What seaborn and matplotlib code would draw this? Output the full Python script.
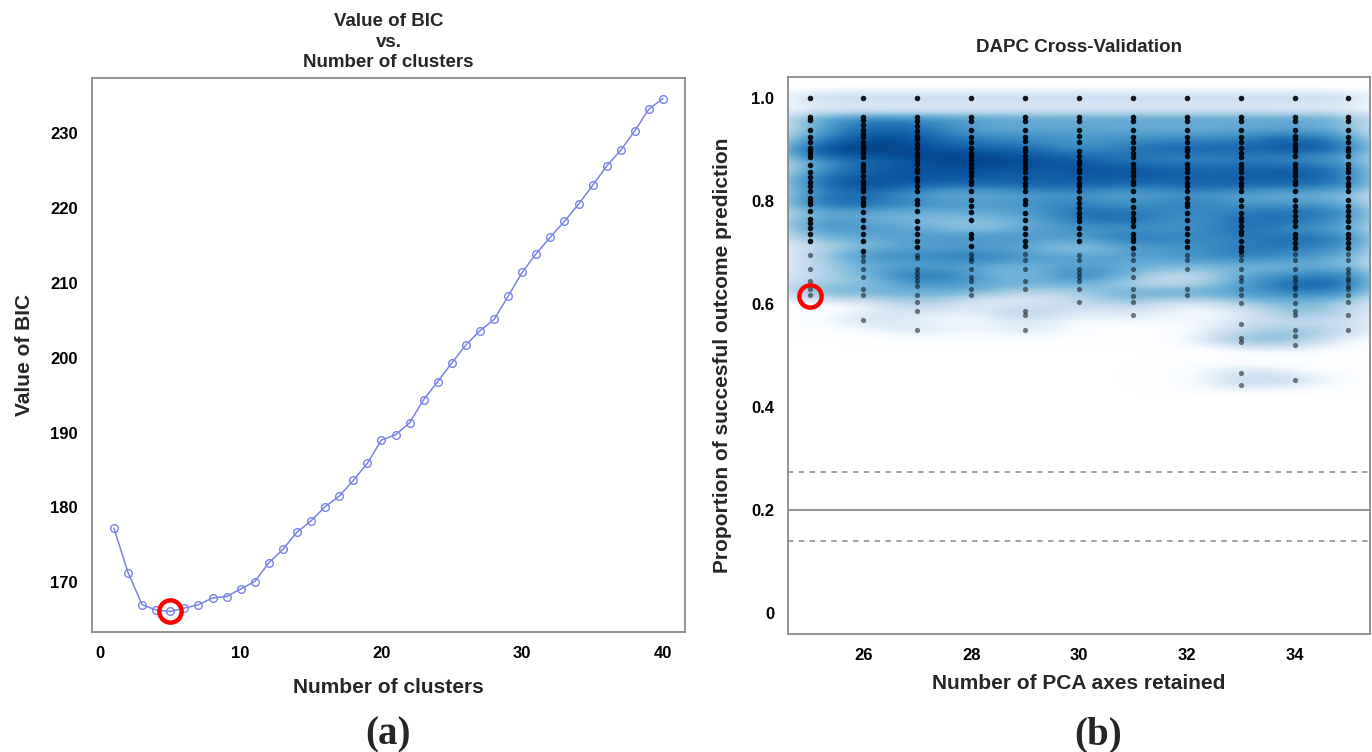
import numpy as np
import pandas as pd
import matplotlib
matplotlib.use("Agg")
import matplotlib.pyplot as plt
from matplotlib.colors import LinearSegmentedColormap
import seaborn as sns

# ---------------- data: panel (a) ----------------
n_clusters = list(range(1, 41))
bic_values = [177.2, 171.3, 167.0, 166.3, 166.1, 166.55, 167.0, 167.9, 168.1, 169.1,
              170.1, 172.6, 174.4, 176.7, 178.2, 180.1, 181.5, 183.6, 185.9, 189.0,
              189.7, 191.3, 194.4, 196.8, 199.3, 201.7, 203.6, 205.1, 208.2, 211.4,
              213.9, 216.1, 218.2, 220.5, 223.0, 225.6, 227.7, 230.3, 233.2, 234.6]
best_k = 5

# ---------------- data: panel (b) ----------------
pca_axes = [25, 26, 27, 28, 29, 30, 31, 32, 33, 34, 35]
success_25 = [1.0, 0.963, 0.956, 0.937, 0.923, 0.913, 0.903, 0.897, 0.890, 0.885, 0.869,
              0.855, 0.846, 0.837, 0.829, 0.819, 0.805, 0.799, 0.793, 0.780, 0.764, 0.757,
              0.747, 0.735, 0.722, 0.694, 0.668, 0.644, 0.628, 0.617]
success_26 = [1.0, 0.963, 0.956, 0.947, 0.937, 0.929, 0.923, 0.913, 0.906, 0.900, 0.893,
              0.885, 0.871, 0.866, 0.857, 0.848, 0.838, 0.832, 0.825, 0.818, 0.805, 0.798,
              0.792, 0.778, 0.762, 0.749, 0.735, 0.722, 0.702, 0.693, 0.684, 0.668, 0.653,
              0.628, 0.617, 0.568]
success_27 = [1.0, 0.963, 0.955, 0.945, 0.935, 0.926, 0.919, 0.911, 0.903, 0.893, 0.887,
              0.880, 0.871, 0.861, 0.855, 0.845, 0.838, 0.829, 0.819, 0.802, 0.793, 0.780,
              0.761, 0.747, 0.735, 0.722, 0.711, 0.694, 0.689, 0.668, 0.660, 0.653, 0.644,
              0.634, 0.617, 0.604, 0.587, 0.550]
success_28 = [1.0, 0.963, 0.955, 0.937, 0.924, 0.913, 0.903, 0.893, 0.887, 0.880, 0.871,
              0.864, 0.856, 0.848, 0.838, 0.832, 0.819, 0.802, 0.789, 0.778, 0.762, 0.735,
              0.727, 0.712, 0.697, 0.690, 0.683, 0.668, 0.653, 0.644, 0.628, 0.617]
success_29 = [1.0, 0.963, 0.955, 0.937, 0.924, 0.916, 0.903, 0.897, 0.887, 0.880, 0.871,
              0.864, 0.855, 0.845, 0.835, 0.829, 0.819, 0.802, 0.793, 0.777, 0.762, 0.747,
              0.735, 0.722, 0.712, 0.696, 0.686, 0.668, 0.644, 0.628, 0.587, 0.578, 0.550]
success_30 = [1.0, 0.963, 0.955, 0.937, 0.926, 0.913, 0.897, 0.887, 0.878, 0.871, 0.861,
              0.855, 0.845, 0.835, 0.829, 0.819, 0.805, 0.796, 0.786, 0.777, 0.768, 0.761,
              0.747, 0.735, 0.722, 0.694, 0.686, 0.668, 0.660, 0.653, 0.644, 0.628, 0.604]
success_31 = [1.0, 0.963, 0.955, 0.937, 0.924, 0.913, 0.903, 0.893, 0.885, 0.871, 0.864,
              0.856, 0.848, 0.838, 0.832, 0.819, 0.802, 0.788, 0.777, 0.767, 0.761, 0.751,
              0.735, 0.728, 0.722, 0.709, 0.696, 0.685, 0.668, 0.653, 0.628, 0.615, 0.604,
              0.578]
success_32 = [1.0, 0.963, 0.955, 0.937, 0.923, 0.913, 0.903, 0.897, 0.887, 0.871, 0.864,
              0.856, 0.845, 0.835, 0.829, 0.819, 0.805, 0.796, 0.789, 0.777, 0.762, 0.747,
              0.735, 0.722, 0.711, 0.694, 0.685, 0.668, 0.628, 0.617]
success_33 = [1.0, 0.963, 0.955, 0.937, 0.924, 0.913, 0.903, 0.893, 0.885, 0.871, 0.864,
              0.855, 0.845, 0.835, 0.829, 0.819, 0.802, 0.789, 0.777, 0.767, 0.761, 0.751,
              0.741, 0.735, 0.722, 0.711, 0.702, 0.694, 0.685, 0.668, 0.653, 0.644, 0.628,
              0.617, 0.602, 0.561, 0.534, 0.527, 0.467, 0.443]
success_34 = [1.0, 0.963, 0.955, 0.937, 0.926, 0.919, 0.911, 0.903, 0.897, 0.887, 0.871,
              0.864, 0.856, 0.848, 0.838, 0.832, 0.819, 0.802, 0.789, 0.780, 0.770, 0.761,
              0.751, 0.735, 0.727, 0.719, 0.709, 0.696, 0.686, 0.668, 0.653, 0.644, 0.634,
              0.628, 0.617, 0.602, 0.587, 0.578, 0.550, 0.537, 0.521, 0.452]
success_35 = [1.0, 0.963, 0.955, 0.937, 0.924, 0.913, 0.903, 0.897, 0.887, 0.871, 0.864,
              0.856, 0.845, 0.835, 0.829, 0.819, 0.802, 0.789, 0.780, 0.770, 0.761, 0.749,
              0.735, 0.727, 0.719, 0.709, 0.696, 0.686, 0.668, 0.660, 0.651, 0.644, 0.634,
              0.628, 0.617, 0.604, 0.578, 0.550]
best_pca = 25
best_success = 0.615
random_mean = 0.2
random_low = 0.141
random_high = 0.274

success_lists = [success_25, success_26, success_27, success_28, success_29, success_30,
                 success_31, success_32, success_33, success_34, success_35]
df_cv = pd.DataFrame({
    "pca": np.concatenate([[a] * len(v) for a, v in zip(pca_axes, success_lists)]).astype(float),
    "success": np.concatenate(success_lists),
})

# ---------------- style ----------------
sns.set_style("white")
plt.rcParams["font.family"] = ["Liberation Sans", "DejaVu Sans"]
plt.rcParams["font.weight"] = "bold"
plt.rcParams["axes.labelweight"] = "bold"
plt.rcParams["axes.titleweight"] = "bold"

W, H = 1372, 752
fig = plt.figure(figsize=(W / 100, H / 100), dpi=100)
ax1 = fig.add_axes([92 / W, 1 - 632 / H, 593 / W, 554 / H])
ax2 = fig.add_axes([788 / W, 1 - 634 / H, 582 / W, 557 / H])

spine_col = "#8a8a8a"
for ax in (ax1, ax2):
    for s in ax.spines.values():
        s.set_visible(True)
        s.set_color(spine_col)
        s.set_linewidth(1.3)
    ax.tick_params(axis="both", direction="out", length=6, width=1.1, color="#777777",
                   labelsize=12, labelcolor="black", pad=4)

# ---------------- panel (a) ----------------
line_col = "#7a84e6"
sns.lineplot(x=n_clusters, y=bic_values, ax=ax1, color=line_col, linewidth=1.1,
             marker="o", markersize=5.5, markerfacecolor="none",
             markeredgecolor=line_col, markeredgewidth=1.0)
sns.lineplot(x=[best_k], y=[bic_values[best_k - 1]], ax=ax1, color="red",
             marker="o", markersize=16, markerfacecolor="none", markeredgecolor="red",
             markeredgewidth=3.2, linestyle="")
ax1.set_xlim(-0.56, 41.56)
ax1.set_ylim(163.36, 237.34)
ax1.set_xticks([0, 10, 20, 30, 40])
ax1.set_yticks([170, 180, 190, 200, 210, 220, 230])
ax1.set_xlabel("Number of clusters", fontsize=15, fontweight="bold", labelpad=12)
ax1.set_ylabel("Value of BIC", fontsize=15, fontweight="bold", labelpad=12)
ax1.set_title("Value of BIC\nvs.\nNumber of clusters", fontsize=13.5, fontweight="bold",
              linespacing=1.25, pad=8)

# ---------------- panel (b): smoothed density (smoothScatter style) ----------------
px = df_cv["pca"].to_numpy()
py = df_cv["success"].to_numpy()
bw_x = (np.quantile(px, 0.95) - np.quantile(px, 0.05)) / 14
bw_y = (np.quantile(py, 0.95) - np.quantile(py, 0.05)) / 28
gx = np.linspace(px.min() - 1.5 * bw_x, px.max() + 1.5 * bw_x, 256)
gy = np.linspace(py.min() - 1.5 * bw_y, py.max() + 1.5 * bw_y, 256)
kx = np.exp(-0.5 * ((gx[None, :] - px[:, None]) / bw_x) ** 2)
ky = np.exp(-0.5 * ((gy[None, :] - py[:, None]) / bw_y) ** 2)
dens = ky.T @ kx
dens = (dens / dens.max()) ** 0.8
blues9 = ["#FFFFFF", "#F7FBFF", "#DEEBF7", "#C6DBEF", "#9ECAE1", "#6BAED6",
          "#4292C6", "#2171B5", "#08519C", "#08306B"]
ramp = LinearSegmentedColormap.from_list("smooth_blues", blues9)
ax2.imshow(dens, extent=[gx[0], gx[-1], gy[0], gy[-1]], origin="lower", aspect="auto",
           cmap=ramp, vmin=0, vmax=1.08, interpolation="bilinear", zorder=0)

hi = df_cv[df_cv["success"] >= 0.70]
lo = df_cv[df_cv["success"] < 0.70]
sns.scatterplot(data=hi, x="pca", y="success", ax=ax2, color="black", s=16,
                linewidth=0, alpha=0.9, zorder=3)
sns.scatterplot(data=lo, x="pca", y="success", ax=ax2, color="black", s=14,
                linewidth=0, alpha=0.5, zorder=3)
ax2.axhline(random_mean, color="#8a8a8a", linewidth=1.3)
ax2.axhline(random_low, color="#999999", linewidth=1.3, linestyle=(0, (3, 3)))
ax2.axhline(random_high, color="#999999", linewidth=1.3, linestyle=(0, (3, 3)))
sns.lineplot(x=[best_pca], y=[best_success], ax=ax2, color="red",
             marker="o", markersize=16, markerfacecolor="none", markeredgecolor="red",
             markeredgewidth=3.2, linestyle="", zorder=4)
ax2.set_xlim(24.6, 35.4)
ax2.set_ylim(-0.04, 1.04)
ax2.set_xticks([26, 28, 30, 32, 34])
ax2.set_yticks([0, 0.2, 0.4, 0.6, 0.8, 1.0])
ax2.set_yticklabels(["0", "0.2", "0.4", "0.6", "0.8", "1.0"])
ax2.set_xlabel("Number of PCA axes retained", fontsize=15, fontweight="bold", labelpad=8)
ax2.set_ylabel("Proportion of succesful outcome prediction", fontsize=15,
               fontweight="bold", labelpad=14)
ax2.set_title("DAPC Cross-Validation", fontsize=13.5, fontweight="bold", pad=18)

for ax in (ax1, ax2):
    for lab in ax.get_xticklabels() + ax.get_yticklabels():
        lab.set_fontweight("bold")

fig.text(388 / W, 1 - 735 / H, "(a)", ha="center", va="center", fontsize=28,
         fontweight="bold", family=["Liberation Serif", "DejaVu Serif"])
fig.text(1098 / W, 1 - 735 / H, "(b)", ha="center", va="center", fontsize=28,
         fontweight="bold", family=["Liberation Serif", "DejaVu Serif"])

fig.savefig("out.png", dpi=100)
